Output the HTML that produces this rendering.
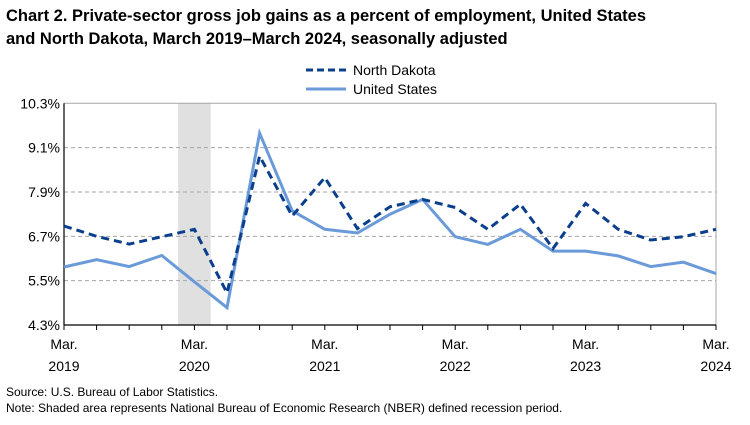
<!DOCTYPE html>
<html><head><meta charset="utf-8"><style>
body{margin:0;background:#fff;font-family:"Liberation Sans",Arial,sans-serif;}
svg text{font-family:"Liberation Sans",Arial,sans-serif;}
</style></head><body>
<svg id="chart" width="750" height="420" viewBox="0 0 750 420" xmlns="http://www.w3.org/2000/svg">
<text x="6" y="21" font-size="16.5" font-weight="bold" fill="#000">Chart 2. Private-sector gross job gains as a percent of employment, United States</text>
<text x="6" y="44" font-size="16.5" font-weight="bold" fill="#000">and North Dakota, March 2019–March 2024, seasonally adjusted</text>
<g>
<line x1="306" y1="70" x2="346" y2="70" stroke="#0b3f8e" stroke-width="3" stroke-dasharray="7,4"/>
<text x="353" y="75" font-size="14">North Dakota</text>
<line x1="306" y1="89" x2="346" y2="89" stroke="#6a9ad8" stroke-width="3"/>
<text x="353" y="94" font-size="14">United States</text>
</g>
<g id="plot"></g>
<text x="6" y="396" font-size="12">Source: U.S. Bureau of Labor Statistics.</text>
<text x="6" y="412" font-size="12">Note: Shaded area represents National Bureau of Economic Research (NBER) defined recession period.</text>
</svg>
<script>
const quarters = 21;
const ndValues = [6.98,6.70,6.49,6.69,6.89,5.17,8.87,7.25,8.29,6.91,7.50,7.70,7.48,6.89,7.57,6.37,7.59,6.89,6.60,6.69,6.89];
const usValues = [5.87,6.07,5.88,6.18,5.47,4.77,9.49,7.39,6.89,6.79,7.30,7.70,6.69,6.48,6.89,6.30,6.30,6.17,5.88,6.00,5.69];
const yTicks = [4.3,5.5,6.7,7.9,9.1,10.3];
const xLabels = [[0,"Mar.","2019"],[4,"Mar.","2020"],[8,"Mar.","2021"],[12,"Mar.","2022"],[16,"Mar.","2023"],[20,"Mar.","2024"]];
const recession = [3.5,4.5];
const X0=64, X1=716, Y0=325, Y1=103.3, YMIN=4.3, YMAX=10.3;
const xs = i => X0 + i*(X1-X0)/(quarters-1);
const ys = v => Y0 - (v-YMIN)/(YMAX-YMIN)*(Y0-Y1);
const NS="http://www.w3.org/2000/svg";
const g=document.getElementById('plot');
function mk(t,a){const e=document.createElementNS(NS,t);for(const k in a)e.setAttribute(k,a[k]);g.appendChild(e);return e;}
let r=mk('rect',{x:xs(recession[0]),y:Y1,width:xs(recession[1])-xs(recession[0]),height:Y0-Y1,fill:'#e0e0e0'});


yTicks.forEach(v=>{
  if(v>YMIN){let l=mk('line',{x1:X0,x2:X1,y1:ys(v),y2:ys(v),stroke:'#a6a6a6','stroke-width':1,'stroke-dasharray':v===YMAX?'':'4,3'});
  
  }
  let t=mk('text',{x:X0-4,y:ys(v)+5,'font-size':14,'text-anchor':'end'});t.textContent=v.toFixed(1)+'%';
  
  
});
let ax=mk('line',{x1:X0,x2:X0,y1:Y1,y2:Y0,stroke:'#000','stroke-width':1.2});


let rb=mk('line',{x1:X1,x2:X1,y1:Y1,y2:Y0,stroke:'#a6a6a6','stroke-width':1});


let xa=mk('line',{x1:X0,x2:X1,y1:Y0,y2:Y0,stroke:'#000','stroke-width':1.2});


for(let i=0;i<quarters;i++){let t=mk('line',{x1:xs(i),x2:xs(i),y1:Y0,y2:Y0+5,stroke:'#000'});

}
xLabels.forEach(([i,a,b])=>{
  let t1=mk('text',{x:xs(i),y:349,'font-size':14,'text-anchor':'middle'});t1.textContent=a;
  
  
  let t2=mk('text',{x:xs(i),y:371,'font-size':14,'text-anchor':'middle'});t2.textContent=b;
  
  
});
const pts=arr=>arr.map((v,i)=>xs(i).toFixed(1)+','+ys(v).toFixed(1)).join(' ');
let us=mk('polyline',{points:pts(usValues),fill:'none',stroke:'#6a9ad8','stroke-width':3,'stroke-linejoin':'miter'});


let nd=mk('polyline',{points:pts(ndValues),fill:'none',stroke:'#0b3f8e','stroke-width':3,'stroke-dasharray':'8,5'});


</script>
</body></html>
